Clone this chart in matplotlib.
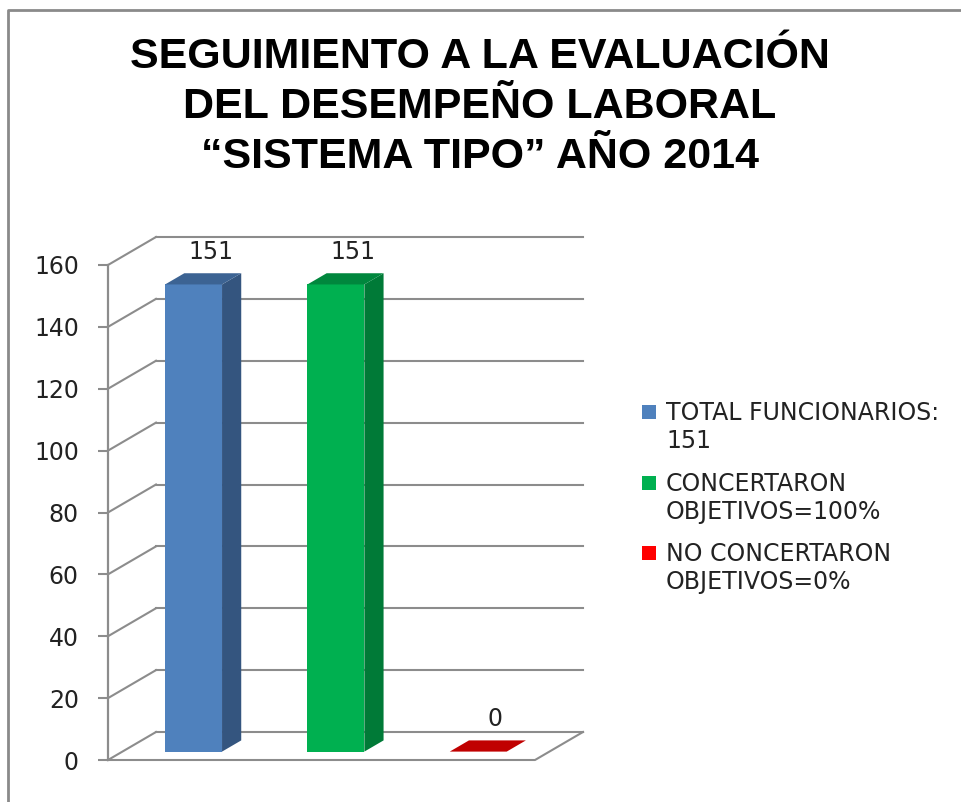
import matplotlib
matplotlib.use("Agg")
import matplotlib.pyplot as plt
from matplotlib import font_manager as fm
from matplotlib.patches import Polygon, Rectangle
from matplotlib.lines import Line2D

# data
categories = ["TOTAL FUNCIONARIOS:\n151",
              "CONCERTARON\nOBJETIVOS=100%",
              "NO CONCERTARON\nOBJETIVOS=0%"]
values = [151, 151, 0]
yticks = [0, 20, 40, 60, 80, 100, 120, 140, 160]
title = "SEGUIMIENTO A LA EVALUACIÓN\nDEL DESEMPEÑO LABORAL\n“SISTEMA TIPO” AÑO 2014"

front_cols = ["#4F81BD", "#00B050", "#C00000"]
side_cols = ["#34557F", "#007A37", "#900000"]
top_cols = ["#3C6393", "#00873D", "#C00000"]
legend_cols = ["#4F81BD", "#00B050", "#FF0000"]


def pick_font(cands, weight="normal"):
    for fam in cands:
        try:
            fm.findfont(fm.FontProperties(family=fam, weight=weight),
                        fallback_to_default=False)
            return fam
        except ValueError:
            pass
    return "DejaVu Sans"


title_font = pick_font(["Liberation Sans Narrow", "Liberation Sans"], "bold")
body_font = "DejaVu Sans"
grid_col = "#8C8C8C"
txt_col = "#222222"

W, H = 961, 802
fig = plt.figure(figsize=(W / 100, H / 100), dpi=100)

# axes = front plane of the 3d box
ax = fig.add_axes([108 / W, (H - 760) / H, 427 / W, 495 / H])
ax.set_xlim(-0.5, 2.5)
ax.set_ylim(0, 160)
for s in ["top", "right", "bottom"]:
    ax.spines[s].set_visible(False)
ax.spines["left"].set_color(grid_col)
ax.spines["left"].set_linewidth(1.6)
ax.set_xticks([])
ax.set_yticks(yticks)
ax.tick_params(axis="y", length=7, width=1.5, color=grid_col, pad=14,
               labelsize=17, labelcolor=txt_col)
for lab in ax.get_yticklabels():
    lab.set_fontfamily(body_font)
ax.patch.set_visible(False)

# depth offset of the back wall, in data units
DX = 48 / (427 / 3)
DY = 28 / (495 / 160)
f0, f1 = 0.3, 0.7
bw = 0.4

# back wall and side wall gridlines
for t in yticks:
    ax.add_line(Line2D([-0.5, -0.5 + DX], [t, t + DY], color=grid_col,
                       lw=1.5, clip_on=False, zorder=1))
    ax.add_line(Line2D([-0.5 + DX, 2.5 + DX], [t + DY, t + DY],
                       color=grid_col, lw=1.5, clip_on=False, zorder=1))
# floor edges
ax.add_line(Line2D([-0.5, 2.5, 2.5 + DX], [0, 0, DY], color=grid_col,
                   lw=1.5, clip_on=False, zorder=1))

# 3d columns
for i, v in enumerate(values):
    xl = i - bw / 2
    xr = i + bw / 2
    if v > 0:
        ax.add_patch(Polygon([(xl + f0 * DX, f0 * DY), (xr + f0 * DX, f0 * DY),
                              (xr + f0 * DX, v + f0 * DY), (xl + f0 * DX, v + f0 * DY)],
                             closed=True, fc=front_cols[i], lw=0,
                             clip_on=False, zorder=3))
        ax.add_patch(Polygon([(xr + f0 * DX, f0 * DY), (xr + f1 * DX, f1 * DY),
                              (xr + f1 * DX, v + f1 * DY), (xr + f0 * DX, v + f0 * DY)],
                             closed=True, fc=side_cols[i], lw=0,
                             clip_on=False, zorder=3))
    ax.add_patch(Polygon([(xl + f0 * DX, v + f0 * DY), (xr + f0 * DX, v + f0 * DY),
                          (xr + f1 * DX, v + f1 * DY), (xl + f1 * DX, v + f1 * DY)],
                         closed=True, fc=top_cols[i], lw=0,
                         clip_on=False, zorder=3))
    ax.text(i + 0.22, v + f1 * DY + 7, str(v), ha="center", va="center",
            fontsize=17, family=body_font, color=txt_col, zorder=4)

# legend
leg_y = [412, 483, 553]
for i, lab in enumerate(categories):
    y1 = 1 - leg_y[i] / H
    fig.patches.append(Rectangle((642 / W, y1 - 7 / H), 14 / W, 14 / H,
                                 transform=fig.transFigure,
                                 fc=legend_cols[i], lw=0))
    fig.text(666 / W, y1 - 15 / H, lab, ha="left", va="center", fontsize=17,
             family=body_font, color=txt_col, linespacing=1.25)

# title
fig.text(480 / W, 1 - 107 / H, title, ha="center", va="center",
         fontsize=31, fontweight="bold", family=title_font,
         color="black", linespacing=1.31)

# chart border
fig.add_artist(Line2D([8 / W, 8 / W, 1.0], [0.0, 1 - 10 / H, 1 - 10 / H],
                      transform=fig.transFigure, color="#8A8A8A", lw=2))

fig.savefig("out.png", dpi=100)
